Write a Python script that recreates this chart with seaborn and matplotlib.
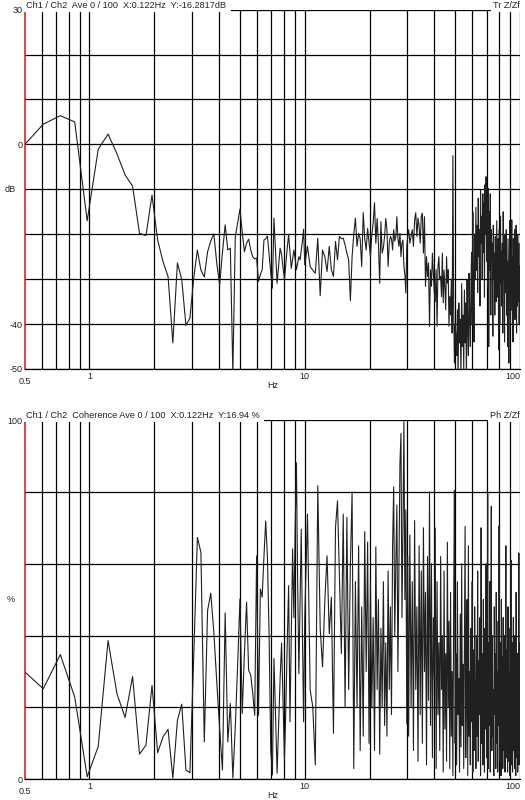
import numpy as np
import pandas as pd
import matplotlib
matplotlib.use("Agg")
import matplotlib.pyplot as plt
import matplotlib.ticker as mticker
import seaborn as sns

# ------------------------------------------------------------------
# Data (frequency in Hz)
# ------------------------------------------------------------------
FREQ_LOW = [
    0.488, 0.610, 0.732, 0.854, 0.976, 1.098, 1.220, 1.342, 1.464, 1.586,
    1.708, 1.830, 1.952, 2.074, 2.196, 2.318, 2.440, 2.562, 2.684, 2.806,
    2.928, 3.050, 3.172, 3.294, 3.416, 3.538, 3.660, 3.782, 3.904, 4.026,
    4.148, 4.270, 4.392, 4.514, 4.636, 4.758, 4.880, 5.002, 5.124, 5.246,
    5.368, 5.490, 5.612, 5.734, 5.856, 5.978, 6.100, 6.222, 6.344, 6.466,
    6.588, 6.710, 6.832, 6.954, 7.076, 7.198, 7.320, 7.442, 7.564, 7.686,
    7.808, 7.930, 8.052, 8.174, 8.296, 8.418, 8.540, 8.662, 8.784, 8.906,
    9.028, 9.150, 9.272, 9.394, 9.516, 9.638, 9.760, 9.882, 10.004,
]
FREQ_MID = [
    10.3, 10.6, 10.9, 11.2, 11.5, 11.8, 12.1, 12.4, 12.7, 13.0,
    13.3, 13.6, 13.9, 14.2, 14.5, 14.8, 15.1, 15.4, 15.7, 16.0,
    16.3, 16.6, 16.9, 17.2, 17.5, 17.8, 18.1, 18.4, 18.7, 19.0,
    19.3, 19.6, 19.9, 20.2, 20.5, 20.8, 21.1, 21.4, 21.7, 22.0,
    22.3, 22.6, 22.9, 23.2, 23.5, 23.8, 24.1, 24.4, 24.7, 25.0,
    25.3, 25.6, 25.9, 26.2, 26.5, 26.8, 27.1, 27.4, 27.7, 28.0,
    28.3, 28.6, 28.9, 29.2, 29.5, 29.8, 30.1,
]
FREQ_HIGH = [
    30.4, 30.8, 31.2, 31.6, 32.0, 32.4, 32.8, 33.2, 33.6, 34.0,
    34.4, 34.8, 35.2, 35.6, 36.0, 36.4, 36.8, 37.2, 37.6, 38.0,
    38.4, 38.8, 39.2, 39.6, 40.0, 40.4, 40.8, 41.2, 41.6, 42.0,
    42.4, 42.8, 43.2, 43.6, 44.0, 44.4, 44.8, 45.2, 45.6, 46.0,
    46.4, 46.8, 47.2, 47.6, 48.0, 48.4, 48.8, 49.2, 49.6, 50.0,
    50.4, 50.8, 51.2, 51.6, 52.0, 52.4, 52.8, 53.2, 53.6, 54.0,
    54.4, 54.8, 55.2, 55.6, 56.0, 56.4, 56.8, 57.2, 57.6, 58.0,
    58.4, 58.8, 59.2, 59.6, 60.0, 60.4, 60.8, 61.2, 61.6, 62.0,
    62.4, 62.8, 63.2, 63.6, 64.0, 64.4, 64.8, 65.2, 65.6, 66.0,
    66.4, 66.8, 67.2, 67.6, 68.0, 68.4, 68.8, 69.2, 69.6, 70.0,
    70.4, 70.8, 71.2, 71.6, 72.0, 72.4, 72.8, 73.2, 73.6, 74.0,
    74.4, 74.8, 75.2, 75.6, 76.0, 76.4, 76.8, 77.2, 77.6, 78.0,
    78.4, 78.8, 79.2, 79.6, 80.0, 80.4, 80.8, 81.2, 81.6, 82.0,
    82.4, 82.8, 83.2, 83.6, 84.0, 84.4, 84.8, 85.2, 85.6, 86.0,
    86.4, 86.8, 87.2, 87.6, 88.0, 88.4, 88.8, 89.2, 89.6, 90.0,
    90.4, 90.8, 91.2, 91.6, 92.0, 92.4, 92.8, 93.2, 93.6, 94.0,
    94.4, 94.8, 95.2, 95.6, 96.0, 96.4, 96.8, 97.2, 97.6, 98.0,
    98.4, 98.8, 99.2, 99.6, 100.0,
]

# transfer function magnitude, dB
TF_LOW = [
    -0.6, 4.5, 6.4, 5.0, -17.0, -1.1, 2.3, -2.1, -6.8, -9.3,
    -19.8, -20.3, -11.3, -21.3, -26.1, -29.4, -44.2, -26.4, -30.1, -40.3,
    -38.7, -29.8, -23.5, -28.0, -29.5, -23.9, -21.5, -19.9, -26.5, -31.3,
    -24.0, -17.9, -23.5, -23.1, -51.0, -20.5, -17.5, -14.4, -19.5, -23.9,
    -22.0, -21.1, -23.5, -25.0, -25.5, -25.3, -30.5, -29.0, -27.9, -21.3,
    -21.0, -20.4, -24.5, -28.5, -32.0, -16.4, -24.0, -30.9, -27.0, -23.1,
    -24.5, -27.5, -30.1, -26.5, -23.0, -20.1, -24.0, -27.6, -25.5, -23.5,
    -25.5, -27.9, -26.5, -25.0, -25.7, -23.5, -21.5, -18.9, -26.8,
]
TF_MID = [
    -22.7, -27.2, -28.0, -28.7, -20.9, -33.7, -23.5, -25.0, -28.3, -22.7,
    -27.9, -29.4, -21.6, -25.7, -20.5, -21.0, -20.9, -22.4, -24.2, -25.7,
    -34.8, -25.0, -20.0, -16.4, -22.7, -19.8, -21.0, -27.2, -15.2, -21.0,
    -23.5, -18.7, -22.0, -25.0, -20.0, -17.5, -13.0, -22.0, -16.5, -22.0,
    -30.9, -17.2, -24.2, -23.0, -20.5, -16.5, -19.0, -27.2, -22.0, -20.5,
    -21.0, -23.5, -19.0, -21.5, -20.5, -16.1, -21.0, -22.7, -19.8, -25.0,
    -22.0, -21.3, -27.2, -29.0, -33.1, -22.7, -20.5,
]
TF_HIGH = [
    -19.0, -22.0, -20.5, -19.0, -22.7, -16.8, -15.2, -20.5, -16.4, -18.3,
    -22.0, -16.0, -15.3, -24.2, -16.1, -31.6, -25.0, -29.4, -26.4, -40.5,
    -27.9, -31.6, -24.2, -28.5, -33.0, -35.0, -27.9, -40.5, -27.2, -25.0,
    -30.1, -29.4, -33.9, -24.2, -35.3, -28.0, -32.0, -36.8, -25.0, -30.9,
    -27.9, -40.5, -33.9, -38.0, -30.0, -42.0, -2.5, -36.8, -48.7, -40.0,
    -42.7, -47.0, -36.8, -52.0, -35.3, -44.2, -39.0, -52.0, -31.0, -45.0,
    -38.0, -50.0, -32.4, -44.2, -35.3, -52.0, -30.1, -41.2, -47.0, -28.7,
    -38.3, -45.0, -31.0, -24.0, -40.0, -15.0, -34.0, -44.0, -20.0, -30.0,
    -14.0, -28.0, -18.0, -33.0, -12.0, -25.0, -19.0, -36.0, -10.1, -22.0,
    -16.0, -30.0, -11.0, -24.0, -13.0, -34.0, -9.0, -20.0, -7.2, -26.0,
    -12.0, -32.0, -9.8, -45.0, -15.0, -28.0, -11.0, -38.0, -19.0, -25.0,
    -22.0, -42.7, -18.0, -30.0, -24.2, -38.0, -20.5, -27.0, -35.0, -17.0,
    -26.4, -34.0, -21.0, -45.7, -19.0, -29.0, -40.0, -16.0, -31.0, -24.0,
    -36.0, -22.0, -42.0, -15.0, -30.0, -25.0, -44.0, -20.0, -33.0, -27.0,
    -19.0, -38.0, -26.0, -45.0, -21.0, -35.0, -48.7, -28.0, -17.0, -32.0,
    -40.0, -23.0, -30.0, -16.8, -37.0, -25.0, -44.0, -21.0, -34.0, -28.0,
    -19.0, -39.0, -26.0, -31.0, -18.0, -42.0, -24.0, -36.0, -20.0, -29.0,
    -35.0, -22.0, -40.0, -27.0, -31.0,
]

# coherence, %
COH_LOW = [
    30.5, 25.2, 34.7, 22.9, 0.7, 9.1, 38.6, 23.8, 17.2, 28.6,
    7.0, 9.5, 26.1, 7.4, 11.8, 13.9, 0.3, 16.4, 20.9, 2.6,
    1.8, 34.0, 67.3, 63.2, 10.4, 47.0, 51.8, 41.0, 27.0, 14.0,
    2.6, 46.3, 10.4, 21.1, 0.3, 14.5, 32.0, 50.2, 18.3, 35.0,
    49.3, 30.3, 29.0, 24.0, 17.8, 62.2, 17.8, 53.0, 50.7, 62.0,
    71.9, 62.0, 40.0, 8.0, 1.2, 33.6, 18.0, 1.7, 15.0, 28.0,
    37.9, 22.0, 5.4, 20.0, 38.0, 53.9, 16.0, 40.0, 64.1, 45.0,
    70.0, 88.1, 55.0, 29.4, 50.0, 69.6, 40.0, 16.0, 45.0,
]
COH_MID = [
    73.8, 24.8, 20.2, 4.0, 81.7, 42.0, 31.3, 49.7, 62.2, 40.5,
    50.7, 12.8, 70.1, 77.5, 56.2, 35.0, 73.8, 20.0, 72.9, 25.0,
    60.0, 80.0, 3.0, 55.0, 20.0, 65.0, 8.0, 48.0, 12.0, 68.9,
    30.0, 66.0, 10.0, 55.0, 20.0, 45.0, 8.0, 64.7, 25.0, 50.0,
    7.0, 42.0, 20.0, 55.0, 15.0, 38.0, 12.0, 58.0, 25.0, 48.0,
    18.0, 65.0, 81.4, 40.0, 60.0, 76.3, 30.0, 60.0, 88.0, 96.3,
    45.0, 70.0, 99.5, 50.0, 75.0, 15.5, 62.0,
]
COH_HIGH = [
    12, 68, 20, 55, 8, 72, 25, 48, 5, 65,
    18, 58, 10, 70, 30, 52, 4, 62, 22, 80,
    15, 60, 6, 45, 28, 70, 3, 55, 18, 38,
    8, 62, 25, 40, 2, 58, 14, 35, 5, 66,
    20, 44, 3, 52, 12, 30, 1, 48, 80.4, 10,
    35, 4, 55, 18, 28, 2, 46, 9, 60, 15,
    32, 3, 38, 70.4, 6, 25, 50, 1, 65, 12,
    30, 4, 42, 16, 55, 2, 36, 8, 48, 20,
    3, 40, 12, 58, 5, 33, 18, 45, 1, 70,
    10, 35, 4, 50, 22, 2, 42, 14, 60, 6,
    28, 80, 3, 38, 15, 55, 2, 32, 76, 8,
    40, 12, 25, 1, 48, 18, 35, 3, 52, 10,
    30, 2, 44, 15, 70.5, 5, 26, 38, 1, 50,
    12, 34, 3, 45, 20, 8, 40, 2, 28, 65,
    6, 36, 14, 2, 48, 22, 5, 30, 1, 42,
    10, 61, 4, 25, 38, 2, 20, 45, 8, 32,
    3, 40, 15, 1, 52, 18, 6, 35, 2, 28,
    10, 63, 4, 38, 20,
]

TF_TITLE = "Ch1 / Ch2  Ave 0 / 100  X:0.122Hz  Y:-16.2817dB"
COH_TITLE = "Ch1 / Ch2  Coherence Ave 0 / 100  X:0.122Hz  Y:16.94 %"
X_TICKS = [0.5, 1, 10, 100]
X_LABELS = ["0.5", "1", "10", "100"]
# decade sub-divisions used for the vertical grid
X_GRID = [m * d for d in (0.1, 1, 10) for m in range(2, 10) if 0.5 < m * d < 100]

TEXT = "#222222"
LINE = "#202020"


def style_panel(ax, ylim, yticks, ylabels, unit, title, tag):
    ax.set_xscale("log")
    ax.set_xlim(0.5, 100)
    ax.set_ylim(*ylim)

    ax.xaxis.set_major_locator(mticker.FixedLocator(X_TICKS))
    ax.xaxis.set_major_formatter(mticker.FixedFormatter(X_LABELS))
    ax.xaxis.set_minor_locator(mticker.FixedLocator(X_GRID))
    ax.xaxis.set_minor_formatter(mticker.NullFormatter())
    ax.set_yticks(yticks)
    ax.set_yticklabels(ylabels)

    ax.grid(True, which="both", color="black", linewidth=0.9)
    ax.tick_params(which="both", length=0, labelsize=6.5, labelcolor=TEXT)
    ax.tick_params(axis="x", pad=2)
    ax.tick_params(axis="y", pad=1.5)

    ticks = ax.xaxis.get_major_ticks()
    # 0.5 label sits a little lower; no grid line under the red axis
    ticks[0].set_pad(5.5)
    ticks[0].gridline.set_visible(False)
    ticks[-1].label1.set_horizontalalignment("right")
    ticks[-1].label1.set_x(1.0)

    for side in ("top", "right"):
        ax.spines[side].set_visible(False)
    ax.spines["left"].set_color("#e01010")
    ax.spines["left"].set_linewidth(1.1)
    ax.spines["bottom"].set_color("black")
    ax.spines["bottom"].set_linewidth(0.9)

    ax.set_xlabel("Hz", fontsize=6.5, color=TEXT, va="top")
    ax.xaxis.set_label_coords(0.5, -0.033)
    ax.set_ylabel(unit, rotation=0, fontsize=6.5, color=TEXT, ha="center", va="center")
    ax.yaxis.set_label_coords(-0.029, 0.5)

    box = dict(facecolor="white", edgecolor="none", pad=1.3)
    ax.text(0.003, 1.0, title + " ", transform=ax.transAxes, ha="left", va="bottom",
            fontsize=6.6, color=TEXT, bbox=box, zorder=10, clip_on=False)
    ax.text(0.999, 1.0, tag, transform=ax.transAxes, ha="right", va="bottom",
            fontsize=6.6, color=TEXT, bbox=box, zorder=10, clip_on=False)


def main():
    sns.set_style("white")
    plt.rcParams["font.family"] = ["Liberation Sans", "DejaVu Sans"]

    freq = FREQ_LOW + FREQ_MID + FREQ_HIGH
    df = pd.DataFrame({
        "freq": freq,
        "tf": TF_LOW + TF_MID + TF_HIGH,
        "coh": COH_LOW + COH_MID + COH_HIGH,
    })

    fig = plt.figure(figsize=(5.25, 8.0), dpi=100)
    ax_tf = fig.add_axes([0.047, 0.5388, 0.9434, 0.4491])
    ax_coh = fig.add_axes([0.047, 0.0259, 0.9434, 0.4491])

    sns.lineplot(data=df, x="freq", y="tf", ax=ax_tf, color=LINE, linewidth=0.8,
                 sort=False, estimator=None)
    sns.lineplot(data=df, x="freq", y="coh", ax=ax_coh, color=LINE, linewidth=0.8,
                 sort=False, estimator=None)

    style_panel(ax_tf, (-50, 30), list(range(-50, 31, 10)),
                ["-50", "-40", "", "", "", "0", "", "", "30"],
                "dB", TF_TITLE, "Tr Z/Zf")
    style_panel(ax_coh, (0, 100), list(range(0, 101, 20)),
                ["0", "", "", "", "", "100"],
                "%", COH_TITLE, "Ph Z/Zf")

    fig.savefig("out.png", dpi=100, facecolor="white")
    plt.close(fig)


if __name__ == "__main__":
    main()
